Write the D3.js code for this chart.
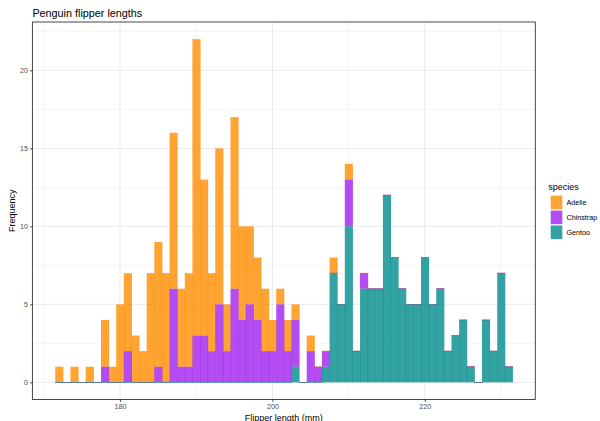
<!DOCTYPE html>
<html>
<head>
<meta charset="utf-8">
<script src="https://cdn.jsdelivr.net/npm/d3@7/dist/d3.min.js"></script>
<style>
  html, body { margin: 0; padding: 0; background: #fff; }
  svg { display: block; }
  text { font-family: "Liberation Sans", Arial, Helvetica, sans-serif; }
</style>
</head>
<body>
<svg id="chart" width="600" height="421"></svg>
<script>
// Flipper length bins (1 mm wide, labelled by centre)
const lengths = [172,173,174,175,176,177,178,179,180,181,
                 182,183,184,185,186,187,188,189,190,191,
                 192,193,194,195,196,197,198,199,200,201,
                 202,203,204,205,206,207,208,209,210,211,
                 212,213,214,215,216,217,218,219,220,221,
                 222,223,224,225,226,227,228,229,230,231];

// Penguin counts per bin, by species
const adelie    = [1,0,1,0,1,0,3,1,5,5, 3,2,7,8,7,10,5,6,19,10, 5,10,3,11,6,5,4,4,2,1,
                   2,1,0,1,0,0,1,0,1,0, 0,0,0,0,0,0,0,0,0,0, 0,0,0,0,0,0,0,0,0,0];
const chinstrap = [0,0,0,0,0,0,1,0,0,2, 0,0,0,1,0,6,1,1,3,3, 2,5,2,6,4,5,4,2,2,5,
                   2,3,0,2,1,1,0,0,3,0, 1,0,0,0,0,0,0,0,0,0, 0,0,0,0,0,0,0,0,0,0];
const gentoo    = [0,0,0,0,0,0,0,0,0,0, 0,0,0,0,0,0,0,0,0,0, 0,0,0,0,0,0,0,0,0,0,
                   0,1,0,0,0,1,7,5,10,2, 6,6,6,12,8,6,5,5,8,5, 6,2,3,4,1,0,4,2,7,1];

const species = ["Adelie", "Chinstrap", "Gentoo"];
const speciesColors = ["#FF8C00", "#A020F0", "#008B8B"];
const xTicks = [180, 200, 220];
const yTicks = [0, 5, 10, 15, 20];

const binWidth = 1;
const fillAlpha = 0.8;

const svg = d3.select("#chart");
const panel = { left: 32.4, right: 535.3, top: 22, bottom: 399.5 };

// Table for stacking: one row per bin
const rows = lengths.map((len, i) => ({
  len, Adelie: adelie[i], Chinstrap: chinstrap[i], Gentoo: gentoo[i]
}));

// Gentoo at the bottom, Adelie on top
const stacked = d3.stack().keys(["Gentoo", "Chinstrap", "Adelie"])(rows);
const byKey = {};
stacked.forEach(s => { byKey[s.key] = s; });

// Scales with 5% padding around the data
const xLo = d3.min(lengths) - binWidth / 2, xHi = d3.max(lengths) + binWidth / 2;
const xPad = (xHi - xLo) * 0.05;
const x = d3.scaleLinear().domain([xLo - xPad, xHi + xPad]).range([panel.left, panel.right]);

const yMax = d3.max(stacked[stacked.length - 1], d => d[1]);
const y = d3.scaleLinear().domain([-yMax * 0.05, yMax * 1.05]).range([panel.bottom, panel.top]);

// Grid: minor then major
const gGrid = svg.append("g");
const xMinor = d3.range(170, 235, 20);
const yMinor = d3.range(2.5, yMax * 1.05, 5);
gGrid.selectAll(".xminor").data(xMinor).join("line")
  .attr("x1", d => x(d)).attr("x2", d => x(d))
  .attr("y1", panel.top).attr("y2", panel.bottom)
  .attr("stroke", "#EBEBEB").attr("stroke-width", 0.5);
gGrid.selectAll(".yminor").data(yMinor).join("line")
  .attr("x1", panel.left).attr("x2", panel.right)
  .attr("y1", d => y(d)).attr("y2", d => y(d))
  .attr("stroke", "#EBEBEB").attr("stroke-width", 0.5);
gGrid.selectAll(".xmajor").data(xTicks).join("line")
  .attr("x1", d => x(d)).attr("x2", d => x(d))
  .attr("y1", panel.top).attr("y2", panel.bottom)
  .attr("stroke", "#EBEBEB").attr("stroke-width", 1);
gGrid.selectAll(".ymajor").data(yTicks).join("line")
  .attr("x1", panel.left).attr("x2", panel.right)
  .attr("y1", d => y(d)).attr("y2", d => y(d))
  .attr("stroke", "#EBEBEB").attr("stroke-width", 1);

// Bars, drawn species by species (Adelie first, Gentoo last)
const gBars = svg.append("g");
species.forEach((sp, si) => {
  const layer = byKey[sp];
  gBars.append("g")
    .selectAll("rect").data(layer).join("rect")
    .attr("x", d => x(d.data.len - binWidth / 2))
    .attr("width", d => x(d.data.len + binWidth / 2) - x(d.data.len - binWidth / 2) + 0.5)
    .attr("y", d => d[1] > d[0] ? y(d[1]) : y(d[1]) - 0.35)
    .attr("height", d => d[1] > d[0] ? y(d[0]) - y(d[1]) : 0.7)
    .attr("fill", speciesColors[si])
    .attr("fill-opacity", fillAlpha);
});

// Panel border
svg.append("rect")
  .attr("x", panel.left).attr("y", panel.top)
  .attr("width", panel.right - panel.left).attr("height", panel.bottom - panel.top)
  .attr("fill", "none").attr("stroke", "#333333").attr("stroke-width", 0.9);

// Axes
const xAxis = svg.append("g")
  .attr("transform", `translate(0,${panel.bottom})`)
  .call(d3.axisBottom(x).tickValues(xTicks).tickSize(2.3).tickPadding(2.2).tickSizeOuter(0));
const yAxis = svg.append("g")
  .attr("transform", `translate(${panel.left},0)`)
  .call(d3.axisLeft(y).tickValues(yTicks).tickSize(2.3).tickPadding(2).tickSizeOuter(0));
[xAxis, yAxis].forEach(g => {
  g.select(".domain").remove();
  g.selectAll(".tick line").attr("stroke", "#333333").attr("stroke-width", 0.9);
  g.selectAll(".tick text").attr("fill", "#4D4D4D")
    .style("font-size", "7.2px")
    .style("font-family", '"Liberation Sans", Arial, Helvetica, sans-serif');
});

// Titles
svg.append("text")
  .attr("x", panel.left).attr("y", 16.6)
  .style("font-size", "10.8px").attr("fill", "#000")
  .text("Penguin flipper lengths");
svg.append("text")
  .attr("x", (panel.left + panel.right) / 2).attr("y", 420.5)
  .attr("text-anchor", "middle")
  .style("font-size", "9px").attr("fill", "#000")
  .text("Flipper length (mm)");
svg.append("text")
  .attr("transform", `translate(14.8,${(panel.top + panel.bottom) / 2}) rotate(-90)`)
  .attr("text-anchor", "middle")
  .style("font-size", "9px").attr("fill", "#000")
  .text("Frequency");

// Legend
const legend = svg.append("g").attr("transform", "translate(548.3,0)");
legend.append("text")
  .attr("x", 0).attr("y", 190)
  .style("font-size", "9px").attr("fill", "#000")
  .text("species");
const keyH = 14.9;
const items = legend.selectAll(".item").data(species).join("g")
  .attr("transform", (d, i) => `translate(0,${195.1 + i * keyH})`);
items.append("rect")
  .attr("x", 2.4).attr("y", 0.6)
  .attr("width", 11.6).attr("height", 13.6)
  .attr("fill", (d, i) => speciesColors[i])
  .attr("fill-opacity", fillAlpha);
items.append("text")
  .attr("x", 18.2).attr("y", 7.4).attr("dy", "0.35em")
  .style("font-size", "7.2px").attr("fill", "#000")
  .text(d => d);
</script>
</body>
</html>
